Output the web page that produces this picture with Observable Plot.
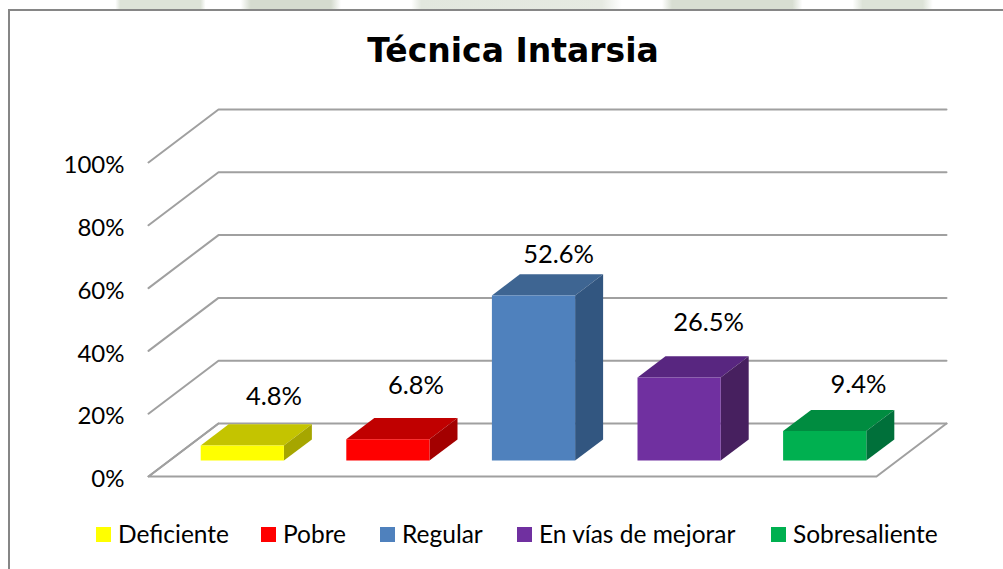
<!DOCTYPE html>
<html><head><meta charset="utf-8">
<script src="https://cdn.jsdelivr.net/npm/d3@7"></script>
<script src="https://cdn.jsdelivr.net/npm/@observablehq/plot@0.6"></script>
<style>
html,body{margin:0;padding:0;background:#fff;overflow:hidden}
#page{position:relative;width:1003px;height:569px;overflow:hidden}
#wm{position:absolute;left:0;top:0;width:1003px;height:9px;background:linear-gradient(90deg,#fff 11.5%,#dde3d8 12%,#dde3d8 20%,#fff 20.5%,#fff 24%,#d5dbcf 25%,#d5dbcf 33%,#fff 34%,#fff 41%,#e2e7de 42%,#e6eae2 60%,#fff 62%,#fff 66%,#d8ded2 67%,#d8ded2 79%,#fff 80%,#fff 85%,#dde3d8 86%,#dde3d8 92%,#fff 93%)}
#frame{position:absolute;left:8px;top:9px;width:1010px;height:580px;border:2px solid #868686;box-sizing:border-box}
#title{position:absolute;left:0;width:1026px;top:30px;text-align:center;font:bold 33px/42px "DejaVu Sans",sans-serif;color:#000}
#plot{position:absolute;left:0;top:85px}
#legend{position:absolute;left:0;top:0;width:1003px;height:569px;pointer-events:none;font:24.5px/28px Lato,sans-serif;color:#000}
.sw{position:absolute;top:527px;width:15px;height:15px}
.lb{position:absolute;top:520px;white-space:nowrap}
</style></head><body>
<div id="page"><div id="wm"></div><div id="frame"></div>
<div id="title">Técnica Intarsia</div>
<div id="plot"></div><div id="legend"></div></div>
<script>
const categories=["Deficiente","Pobre","Regular","En vías de mejorar","Sobresaliente"];
const values=[4.8,6.8,52.6,26.5,9.4];
const faceColors=["#FFFF00","#FF0000","#4F81BD","#7030A0","#00B050"];
const topColors=["#C4C400","#C00000","#3E6592","#582680","#008C40"];
const sideColors=["#A6A600","#A30000","#325680","#47205F","#00703A"];
const ticks=[0,20,40,60,80,100];
const labelLift=[8.7,10.2,6.2,10.7,8];   // label height above the bar's back edge, in % units
const labelShift=[0.025,0,-0.02,0.01,0.04]; // label offset from bar centre, in categories
const legendX=[[96,118],[261,283],[380,402],[517,539],[771,793]];

// oblique projection: depth d (0 front … 1 back) shifts x (category units) and y (% units)
const depthX=70/145.6, depthY=53/3.14;
const P=(u,v,d)=>({x:u+depthX*d,y:v+depthY*d});
const barHalf=1/1.75/2, d0=0.3, d1=0.7;

const polys=[];
values.forEach((v,i)=>{
  const a=i+0.5-barHalf,b=i+0.5+barHalf;
  const add=(k,c,pts)=>pts.forEach(p=>polys.push({...P(...p),k:i+k,c}));
  add("top",topColors[i],[[a,v,d0],[b,v,d0],[b,v,d1],[a,v,d1]]);
  add("side",sideColors[i],[[b,0,d0],[b,v,d0],[b,v,d1],[b,0,d1]]);
  add("face",faceColors[i],[[a,0,d0],[b,0,d0],[b,v,d0],[a,v,d0]]);
});
const grid=ticks.flatMap(t=>[P(0,t,0),P(0,t,1),P(5,t,1)].map(p=>({...p,k:t})));
const floor=[P(0,0,1),P(0,0,0),P(5,0,0),P(5,0,1)];
const labels=values.map((v,i)=>({...P(i+0.5+labelShift[i],v+labelLift[i],d1),t:v.toFixed(1)+"%"}));

const chart=Plot.plot({
  width:1003,height:430,
  marginLeft:148,marginRight:127,marginTop:77,marginBottom:39,
  style:{fontFamily:"Lato,sans-serif",background:"transparent",color:"#000"},
  x:{type:"linear",domain:[0,5],axis:null},
  y:{type:"linear",domain:[0,100],axis:null},
  marks:[
    Plot.line(grid,{x:"x",y:"y",z:"k",stroke:"#A0A0A0",strokeWidth:2}),
    Plot.line(floor,{x:"x",y:"y",stroke:"#A0A0A0",strokeWidth:2}),
    Plot.line(polys,{x:"x",y:"y",z:"k",fill:"c",stroke:"none"}),
    Plot.text(labels,{x:"x",y:"y",text:"t",fontSize:25.5,fill:"#000"}),
    Plot.axisY(ticks,{anchor:"left",tickSize:0,tickPadding:24,tickFormat:d=>d+"%",fontSize:24,dy:3,fill:"#000",label:null})
  ]
});
document.getElementById("plot").append(chart);
const lg=document.getElementById("legend");
categories.forEach((c,i)=>{
  const s=document.createElement("div");s.className="sw";s.style.left=legendX[i][0]+"px";s.style.background=faceColors[i];lg.append(s);
  const t=document.createElement("div");t.className="lb";t.style.left=legendX[i][1]+"px";t.textContent=c;lg.append(t);
});
</script></body></html>
